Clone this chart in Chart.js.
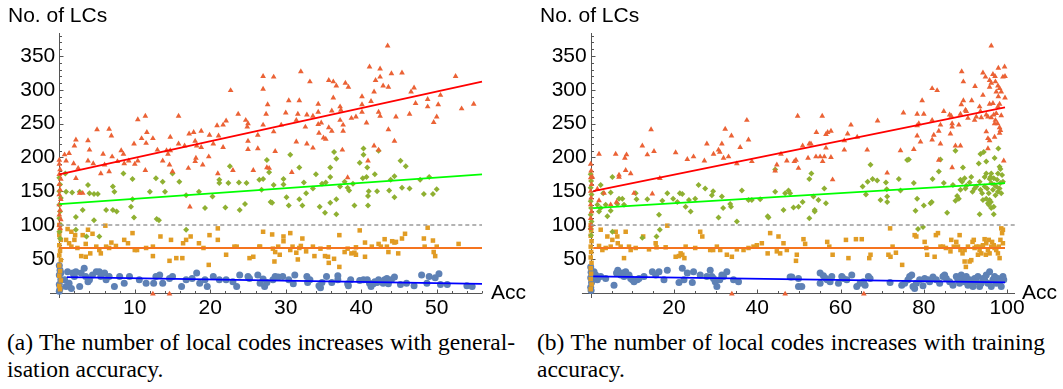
<!DOCTYPE html>
<html>
<head>
<meta charset="utf-8">
<script src="https://cdn.jsdelivr.net/npm/chart.js@4.4.1/dist/chart.umd.min.js"></script>
<style>
  body { margin: 0; background: #fff; }
  #page { position: relative; width: 1063px; height: 389px; overflow: hidden; }
  canvas { position: absolute; top: 0; }
  #genChart { left: 0; }
  #trainChart { left: 530px; }
  .axis-title { position: absolute; font: 21px "Liberation Sans", Arial, sans-serif; line-height: 1; color: #000; white-space: nowrap; }
  .caption { position: absolute; top: 329px; width: 508px; font: 23.5px "Liberation Serif", "Times New Roman", serif; line-height: 27px; color: #000; }
  .caption .first { text-align: justify; text-align-last: justify; white-space: nowrap; }
</style>
</head>
<body>
<div id="page">
  <canvas id="genChart" width="530" height="320"></canvas>
  <canvas id="trainChart" width="533" height="320"></canvas>
  <div class="axis-title" style="left:8px;top:4px">No. of LCs</div>
  <div class="axis-title" style="left:491px;top:281px">Acc</div>
  <div class="axis-title" style="left:540px;top:4px">No. of LCs</div>
  <div class="axis-title" style="left:1022px;top:281px">Acc</div>
  <div class="caption" style="left:7px">
    <div class="first">(a) The number of local codes increases with general-</div>
    <div>isation accuracy.</div>
  </div>
  <div class="caption" style="left:537px">
    <div class="first">(b) The number of local codes increases with training</div>
    <div>accuracy.</div>
  </div>
</div>
<script>
// ---------- tick values ----------
const yTicks = [50, 100, 150, 200, 250, 300, 350];
const genXTicks = [10, 20, 30, 40, 50];
const trainXTicks = [20, 40, 60, 80, 100];

// ---------- (a) generalisation accuracy vs number of LCs ----------
const genRed = [
  [43.5,365],[41.1,334],[42.5,331],[44.0,324],[45.4,325],[52.5,320],[42.5,319],[27.0,320],[28.4,319],[32.0,327],
  [35.7,314],[36.3,312],[33.2,312],[37.9,310],[36.7,306],[38.3,304],[41.9,314],[42.9,306],[43.6,304],[27.0,301],
  [41.7,297],[46.6,297],[47.0,303],[50.5,292],[48.8,286],[40.1,290],[36.3,288],[41.3,283],[30.4,284],[31.8,284],
  [27.6,278],[34.3,279],[47.2,280],[48.8,275],[50.2,278],[53.3,272],[54.9,279],[40.1,278],[37.2,275],[36.1,269],
  [37.3,270],[34.3,267],[30.0,266],[27.4,264],[31.6,264],[40.1,267],[42.3,267],[46.4,264],[32.8,263],[33.6,261],
  [42.5,261],[44.6,260],[39.3,260],[38.7,258],[50.0,260],[31.4,255],[37.2,255],[49.6,252],[34.3,249],[34.7,251],
  [27.0,248],[29.4,248],[37.6,248],[40.7,251],[32.6,245],[35.7,244],[36.1,239],[37.6,239],[28.4,238],[34.4,236],
  [43.6,241],[35.0,229],[35.3,227],[44.4,224],[31.4,223],[32.8,220],[33.6,214],[41.7,217],[37.5,211],[28.6,209],
  [22.7,299],[23.7,264],[24.7,255],[25.0,250],[24.9,245],[20.9,247],[21.7,248],[22.1,254],[15.8,261],[10.4,256],
  [11.4,261],[11.6,237],[6.6,242],[6.9,232],[5.0,241],[3.8,225],[2.2,226],[1.3,206],[0.7,204],[2.0,217],
  [9.9,220],[10.9,228],[11.5,221],[12.4,228],[14.7,230],[14.7,210],[14.2,210],[15.8,220],[16.6,217],[17.2,235],
  [17.8,237],[18.0,224],[18.2,217],[18.8,239],[19.9,233],[21.1,232],[26.3,233],[26.3,213],[25.0,224],[8.5,205],
  [8.2,210],[7.0,201],[5.8,205],[14.4,205],[13.0,211],[18.1,199],[19.8,201],[4.0,211],[18.8,215],[20.4,220],
  [21.7,215],[25.0,212],[0,196],[0.9,195],[1.9,191],[2.5,184],[3.8,195],[4.5,191],[6.0,189],[6.6,179],
  [7.7,194],[8.6,191],[9.2,195],[10.0,190],[10.4,195],[11.4,181],[13.7,195],[14.6,189],[15.0,179],[17.1,184],
  [18.0,194],[19.0,189],[21.0,176],[23.0,181],[25.7,181],[27.8,184],[2.2,169],[5.5,176],[2.7,147],[3.1,147],
  [17.3,127],[12.4,-2],[14.6,-2],[42.3,211],[27.5,185],[30.8,178],[38.2,170],[40.9,195],
  [0,190],[0.1,182],[0,175],[0.2,168],[0,160],[0.1,152],[0,145],[0.2,138],[0,130],[0.1,122],
  [0,115],[0.2,108],[0,100],[0.1,95]
];
const genGreen = [
  [30.6,204],[27.5,196],[27.8,178],[27.0,168],[29.7,168],[29.7,160],[28.4,159],[26.8,152],[28.0,134],[28.2,133],
  [30.1,141],[30.4,129],[31.8,185],[31.8,138],[32.2,129],[32.4,163],[33.6,154],[34.0,175],[34.5,127],[35.2,118],
  [35.9,185],[35.9,171],[35.9,133],[36.7,138],[36.7,116],[37.2,157],[37.8,164],[38.2,155],[38.4,151],[38.9,161],
  [39.1,129],[39.8,192],[40.2,169],[40.7,171],[40.9,129],[40.9,143],[40.3,204],[40.8,185],[41.0,150],[41.8,175],
  [42.1,150],[43.7,151],[43.9,167],[44.4,172],[44.4,141],[45.2,195],[45.4,155],[45.9,187],[46.4,154],[47.8,167],
  [48.3,146],[49.0,171],[49.5,146],[50.0,153],[35.3,163],[34.8,161],[32.7,147],[40.3,213],[42.3,210],[36.4,208],
  [36.7,198],[0.9,149],[1.7,148],[2.7,149],[3.8,159],[4.0,147],[4.6,146],[5.1,146],[7.1,157],[7.3,149],
  [8.5,176],[9.7,168],[9.7,138],[9.9,111],[12.0,149],[12.8,169],[13.7,164],[14.0,149],[15.0,176],[15.9,164],
  [16.8,144],[18.5,149],[20.3,142],[21.2,167],[21.2,162],[22.4,162],[22.6,187],[23.8,163],[24.8,162],[22.0,126],
  [23.9,122],[24.6,131],[26.5,167],[3.1,122],[4.6,107],[6.2,122],[7.1,122],[7.6,120],[9.5,127],[12.9,109],
  [13.2,107],[16.8,93],[2.2,93],[3.6,83],[5.3,83],[2.2,112],[19.3,125],[0.8,176],
  [0,170],[0.1,160],[0,150],[0.2,140],[0,130],[0.1,120],[0,110],[0.2,100],[0,90],[0.1,80]
];
const genOrange = [
  [27.0,90],[28.2,86],[29.7,83],[29.7,76],[30.6,88],[26.6,68],[28.3,65],[28.6,60],[29.0,68],[28.5,46],
  [29.2,56],[30.6,63],[30.9,68],[31.4,59],[31.6,49],[31.8,66],[32.0,69],[32.2,80],[32.7,61],[33.6,68],
  [33.8,54],[34.6,65],[35.2,54],[35.6,53],[35.7,67],[35.7,44],[36.4,50],[37.1,85],[37.1,38],[37.8,60],
  [38.2,65],[38.7,58],[39.1,59],[39.3,56],[39.3,67],[39.8,92],[40.5,74],[40.5,53],[41.4,68],[42.3,72],
  [42.6,68],[43.1,79],[43.4,68],[43.6,60],[44.1,76],[44.4,74],[44.6,75],[44.9,58],[45.4,80],[45.8,87],
  [48.3,80],[48.4,68],[48.8,96],[49.5,77],[49.6,60],[49.8,54],[50.0,68],[52.9,72],
  [1.1,94],[1.6,90],[2.1,85],[3.1,85],[3.8,93],[4.4,87],[0.9,78],[1.3,73],[1.6,68],[2.4,66],
  [2.9,54],[3.5,53],[4.1,58],[3.5,72],[4.9,68],[5.3,63],[5.5,58],[6.1,99],[6.2,68],[6.6,66],
  [6.9,74],[7.5,69],[8.6,78],[9.1,73],[9.7,88],[10.0,63],[10.3,63],[11.5,66],[12.4,68],[12.4,54],
  [13.4,83],[14.6,47],[14.8,78],[15.5,51],[16.3,51],[16.4,73],[16.8,78],[17.4,83],[18.5,73],[19.1,66],
  [19.8,41],[19.9,85],[21.0,95],[21.0,78],[22.1,56],[23.2,68],[23.5,68],[25.2,51],[25.7,53],[26.5,68],
  [2.0,78],[0,100],[0.1,92],[0,85],[0.2,78],[0,70],[0.1,62],[0,55],[0.2,48],[0,40],
  [0.1,32],[0,25],[0.2,18],[0,10],[0.1,5]
];
const genBlue = [
  [27.0,20],[26.6,14],[27.5,15],[28.6,24],[29.0,23],[29.6,24],[28.3,19],[27.2,9],[30.4,19],[31.0,13],
  [31.2,26],[32.8,24],[32.9,15],[33.2,19],[34.4,10],[34.6,7],[34.8,15],[35.4,24],[36.1,15],[36.9,25],
  [36.9,19],[38.2,13],[38.3,10],[38.6,19],[39.8,18],[40.3,19],[40.8,19],[41.1,14],[41.3,9],[41.6,13],
  [41.8,16],[42.1,15],[42.3,19],[42.9,14],[43.1,19],[43.4,21],[43.6,13],[44.0,19],[44.4,23],[45.2,12],
  [46.0,14],[47.0,10],[48.0,26],[48.7,14],[49.0,24],[49.8,22],[50.3,28],[50.5,12],[51.4,12],[54.0,10],
  [54.7,9],[0.2,29],[0.7,19],[1.1,31],[1.3,14],[1.8,29],[2.0,24],[2.2,31],[2.7,9],[2.9,29],
  [3.3,36],[3.5,24],[4.0,19],[4.4,26],[4.9,31],[5.3,31],[5.5,24],[6.0,29],[6.2,19],[6.6,24],
  [7.3,9],[8.0,24],[8.6,14],[9.3,24],[10.6,19],[11.5,14],[12.5,14],[12.8,24],[13.3,26],[13.7,14],
  [14.6,21],[15.0,24],[16.2,9],[16.8,19],[17.6,21],[18.2,29],[18.6,14],[19.3,19],[19.6,9],[20.4,24],
  [21.2,19],[22.1,19],[23.0,16],[23.5,9],[23.9,26],[25.0,24],[25.2,21],[26.3,26],[0.9,9],[1.6,6],
  [3.8,16],[0,40],[0.1,33],[0,26],[0.2,19],[0,12],[0.1,6],[0,2]
];
const genFitRed = [[0,175],[56,312]];
const genFitGreen = [[0,131],[56,175]];
const genFitOrange = [[0,66],[56,66]];
const genFitBlue = [[1,23],[56,13]];
const genRef = [[0,100],[56,100]];

// ---------- (b) training accuracy vs number of LCs ----------
const trainRed = [
  [6.0,205],[8.2,199],[8.6,204],[12.4,217],[13.6,204],[14.5,241],[15.2,209],[20.4,207],[27.9,220],[29.5,205],
  [30.7,211],[31.0,208],[31.5,220],[32.3,242],[33.8,232],[35.9,215],[37.5,255],[37.9,226],[31.9,199],[23.2,197],
  [24.7,201],[45.7,205],[49.7,261],
  [96.2,365],[89.1,327],[94.2,325],[94.8,319],[96.6,323],[97.1,320],[97.9,332],[99.4,334],[99.0,319],[99.5,320],
  [89.5,312],[92.3,305],[95.8,314],[96.2,310],[95.8,304],[97.2,312],[97.8,306],[98.2,302],[97.4,297],[98.6,297],
  [82.0,302],[83.2,299],[94.2,292],[79.6,284],[89.5,284],[91.5,284],[97.9,290],[99.5,288],[96.6,280],[95.8,279],
  [97.8,275],[98.2,279],[89.0,278],[90.0,270],[90.2,268],[93.4,275],[93.6,268],[95.0,263],[92.6,260],[93.8,259],
  [95.4,260],[96.2,259],[96.8,263],[97.4,265],[98.6,262],[75.1,266],[78.4,264],[80.0,264],[84.8,268],[86.2,263],
  [86.6,261],[88.8,264],[90.6,258],[92.2,255],[97.2,255],[97.7,250],[82.0,255],[78.8,250],[78.4,247],[84.0,248],
  [86.8,250],[86.8,245],[88.4,248],[83.6,239],[86.4,235],[95.0,238],[98.2,244],[98.4,240],[98.2,236],[78.4,232],
  [82.4,233],[82.0,226],[79.2,223],[84.0,220],[87.6,217],[88.8,217],[95.4,228],[95.8,225],[95.4,213],[97.0,230],
  [97.0,250],[55.6,261],[62.5,248],[54.2,237],[56.5,234],[56.9,237],[57.7,239],[61.7,235],[64.0,230],[60.9,225],
  [50.9,217],[52.5,220],[52.9,220],[56.5,214],[60.9,211],[66.4,211],[68.9,254],[74.4,210],[77.6,212],[52.2,199],
  [54.1,201],[55.1,201],[56.1,201],[57.7,200],
  [2.0,205],[8.4,181],[6.8,174],[9.6,176],[27.3,195],[33.1,201],[35.1,191],[38.7,194],[44.3,180],[44.7,189],
  [47.1,195],[49.9,184],[1.6,153],[2.0,136],[0.4,171],[3.2,147],[4.8,130],[6.2,134],[6.8,171],[10.4,147],
  [14.8,146],[16.6,169],[33.9,-2],[46.7,-2],
  [48.9,194],[49.3,196],[55.7,194],[58.1,167],[71.2,177],[83.6,196],[86.8,185],[99.2,195],[65.6,-2],
  [0,190],[0.1,180],[0,170],[0.2,160],[0,150],[0.1,140],[0,130],[0.2,120],[0,110],[0.1,100],[0,95]
];
const trainGreen = [
  [2.4,159],[3.0,147],[5.2,171],[4.8,148],[6.8,139],[1.6,130],[2.4,125],[2.0,120],[3.6,130],[4.0,113],
  [4.8,121],[5.2,90],[6.4,131],[7.6,139],[8.0,130],[10.8,147],[11.0,138],[12.4,81],[13.6,138],[15.8,83],
  [16.6,93],[16.4,115],[17.2,136],[18.4,147],[19.8,139],[20.8,134],[21.4,147],[22.0,146],[22.8,127],[23.6,137],
  [24.0,120],[25.1,139],[25.9,159],[27.5,154],[29.4,150],[29.1,144],[30.7,111],[31.5,142],[31.8,125],[33.5,131],
  [33.7,127],[35.1,105],[36.3,151],[37.9,137],[38.7,137],[40.7,138],[42.5,113],[42.7,111],[44.3,182],[44.3,149],
  [46.3,122],[46.7,147],[47.5,151],[48.7,126],[49.9,127],
  [87.6,210],[93.6,205],[94.4,208],[97.9,213],[97.0,199],[76.4,197],[84.0,197],
  [47.9,147],[50.9,134],[52.5,168],[53.0,176],[52.5,110],[53.5,142],[53.8,122],[53.8,120],[54.7,137],[56.1,154],
  [56.5,132],[65.3,157],[66.1,145],[66.5,164],[67.7,168],[68.8,166],[67.2,189],[69.6,137],[70.9,163],[71.2,142],
  [71.2,134],[71.1,153],[74.0,168],[74.4,151],[76.0,196],[77.6,162],[78.0,121],[78.4,139],[80.0,129],[81.6,132],
  [82.1,168],[81.9,134],[83.6,179],[84.8,162],[85.6,118],[87.0,159],[87.6,136],[88.0,143],[88.4,139],[88.8,167],
  [88.8,152],[89.2,164],[89.4,185],[89.8,169],[90.0,154],[90.2,158],[91.0,163],[91.4,171],[91.7,149],[92.2,154],
  [92.6,157],[93.2,191],[93.4,164],[93.6,152],[94.0,147],[94.6,171],[94.6,157],[95.0,194],[95.0,176],[95.2,154],
  [95.6,147],[95.8,168],[95.8,137],[96.0,171],[96.2,176],[96.2,162],[96.6,152],[96.8,169],[97.0,159],[97.2,144],
  [97.4,157],[97.6,167],[97.8,176],[97.8,149],[98.2,186],[98.2,154],[98.4,162],[98.6,147],[98.8,174],[99.0,164],
  [98.4,183],[93.4,116],[95.4,132],[96.8,116],[94.2,137],[95.6,130],[96.1,134],[96.8,127],[96.2,125],[95.0,139],
  [78.6,94],[79.8,97],
  [0,175],[0.1,165],[0,155],[0.2,145],[0,135],[0.1,125],[0,115],[0.2,105],[0,95],[0.1,85]
];
const trainOrange = [
  [2.4,93],[4.0,83],[2.0,69],[2.8,63],[3.6,66],[4.8,68],[5.2,78],[6.0,90],[6.4,83],[6.5,73],
  [7.2,68],[8.0,51],[8.4,90],[9.2,68],[9.6,63],[10.8,66],[12.6,83],[14.0,64],[15.6,73],[15.8,67],
  [18.0,67],[18.4,99],[20.4,53],[21.2,54],[21.6,58],[22.0,56],[22.5,51],[22.8,68],[25.1,66],[26.3,90],
  [26.8,83],[28.7,63],[29.4,63],[30.3,68],[31.1,63],[32.7,56],[33.9,53],[35.1,64],[36.7,63],[37.9,66],
  [39.1,68],[39.9,70],[41.1,73],[42.5,58],[43.1,88],[44.7,61],[45.1,83],[45.5,58],[46.3,73],[47.1,63],
  [49.5,56],
  [51.1,79],[51.5,72],[49.3,47],[56.8,75],[57.3,68],[58.1,56],[61.3,78],[61.9,51],[63.7,79],[65.1,79],
  [66.9,51],[67.2,56],[71.5,56],[72.0,53],[72.5,68],[73.3,59],[74.8,41],[71.9,95],[77.8,85],[78.2,83],
  [80.2,75],[80.6,66],[80.8,56],[82.6,53],[82.9,85],[83.4,88],[84.0,68],[84.6,68],[85.3,66],[86.4,61],
  [86.6,78],[87.2,68],[87.8,75],[88.2,68],[88.6,85],[88.8,63],[89.3,58],[89.8,63],[90.1,38],[90.6,68],
  [91.0,46],[91.4,48],[91.7,75],[92.0,78],[92.2,66],[92.6,68],[93.0,56],[93.2,68],[93.4,63],[93.8,58],
  [94.2,70],[94.6,79],[94.9,56],[95.0,73],[95.4,63],[95.6,78],[95.8,58],[96.2,68],[96.4,75],[96.8,70],
  [97.0,66],[97.4,63],[97.8,58],[98.0,68],[98.2,51],[98.4,78],[98.6,95],[98.8,88],[99.0,93],[99.0,73],
  [89.8,46],
  [0,100],[0.1,92],[0,84],[0.2,76],[0,68],[0.1,60],[0,52],[0.2,44],[0,36],[0.1,28],[0,20],[0.2,12],[0,5]
];
const trainBlue = [
  [0.8,31],[1.2,26],[1.6,19],[2.4,24],[3.6,21],[5.6,11],[6.2,29],[6.5,33],[7.2,26],[7.6,29],
  [8.0,24],[8.4,31],[8.8,26],[9.2,26],[9.6,21],[10.0,19],[10.4,16],[11.2,19],[11.6,21],[12.8,24],
  [14.8,31],[15.6,26],[16.4,31],[17.6,19],[18.4,33],[22.0,36],[21.2,15],[22.4,19],[23.2,29],[24.4,15],
  [24.7,31],[26.3,26],[27.9,24],[28.7,33],[29.1,24],[29.5,21],[29.9,16],[30.3,9],[31.0,19],[31.5,26],
  [31.9,24],[32.7,31],[34.3,19],[35.5,16],[48.3,23],[49.9,9],
  [47.9,23],[49.9,21],[50.7,9],[55.1,29],[55.1,14],[55.9,25],[56.5,21],[56.8,19],[57.5,16],[57.9,24],
  [59.5,14],[60.3,24],[60.7,21],[61.5,19],[62.7,26],[63.9,9],[64.7,14],[65.5,16],[65.9,11],[66.7,24],
  [67.1,21],[71.9,15],[74.7,11],[75.4,14],[76.2,19],[76.6,24],[77.1,26],[77.4,9],[77.8,6],[78.2,14],
  [79.0,19],[79.8,10],[80.2,21],[81.0,19],[81.4,16],[82.2,23],[83.0,19],[83.8,14],[84.6,24],[85.0,26],
  [85.4,21],[86.2,16],[87.0,11],[87.8,24],[88.2,19],[88.6,14],[89.0,26],[89.4,21],[89.8,16],[90.2,24],
  [90.6,11],[91.0,19],[91.4,14],[91.8,9],[92.2,21],[92.6,16],[93.0,24],[93.4,9],[93.8,14],[94.2,21],
  [94.6,19],[95.0,26],[95.4,14],[95.8,31],[96.2,9],[96.6,19],[97.0,24],[97.4,14],[97.8,21],[98.2,16],
  [98.6,9],[99.0,24],[99.2,19],
  [0,38],[0.1,30],[0,22],[0.2,15],[0,8],[0.1,3]
];
const trainFitRed = [[0.6,150],[99.5,274]];
const trainFitGreen = [[0.6,125],[99.5,162]];
const trainFitOrange = [[0.6,66],[99.5,66]];
const trainFitBlue = [[0.6,24],[99.5,15]];
const trainRef = [[0,100],[101.9,100]];

// ---------- styling ----------
const AXIS_COLOR = "#555555";
const tickFont = { family: "'Liberation Sans', Arial, sans-serif", size: 21 };
const colors = { blue: "#5E81B5", orange: "#E19C24", green: "#8FB032", red: "#EB6235" };

const toPoints = pairs => pairs.map(([x, y]) => ({ x, y }));

function markers(pairs, color, style, radius) {
  return {
    data: toPoints(pairs),
    pointStyle: style,
    pointRadius: radius,
    pointBackgroundColor: color,
    pointBorderWidth: 0,
    showLine: false,
    clip: false
  };
}

function line(pairs, color, width, dash) {
  return {
    data: toPoints(pairs),
    showLine: true,
    borderColor: color,
    borderWidth: width,
    borderDash: dash || [],
    pointRadius: 0,
    fill: false,
    clip: false
  };
}

// Axis lines through the origin plus inward major/minor tick marks
const axisFrame = {
  id: "axisFrame",
  beforeDatasetsDraw(chart, args, opts) {
    const { ctx, scales: { x, y } } = chart;
    const ox = Math.round(x.getPixelForValue(0)) + 0.5;
    const oy = Math.round(y.getPixelForValue(0)) + 0.5;
    ctx.save();
    ctx.strokeStyle = AXIS_COLOR;
    ctx.lineWidth = 1;
    ctx.beginPath();
    ctx.moveTo(x.getPixelForValue(opts.xLow), oy);
    ctx.lineTo(x.right, oy);
    ctx.moveTo(ox, y.getPixelForValue(opts.yLow));
    ctx.lineTo(ox, y.top);
    for (let i = 1; i * opts.xStep <= x.max; i++) {
      const px = Math.round(x.getPixelForValue(i * opts.xStep)) + 0.5;
      const len = i % opts.xEvery === 0 ? 4 : 2.5;
      ctx.moveTo(px, oy);
      ctx.lineTo(px, oy - len);
    }
    for (let i = 1; i * opts.yStep <= y.max; i++) {
      const py = Math.round(y.getPixelForValue(i * opts.yStep)) + 0.5;
      const len = i % opts.yEvery === 0 ? 4 : 2.5;
      ctx.moveTo(ox, py);
      ctx.lineTo(ox + len, py);
    }
    ctx.stroke();
    ctx.restore();
  }
};

function renderPanel(canvasId, datasets, xTicks, xMax, frame, yAxisWidth) {
  new Chart(document.getElementById(canvasId), {
    type: "scatter",
    data: { datasets },
    options: {
      responsive: false,
      animation: false,
      devicePixelRatio: 1,
      events: [],
      layout: { padding: { left: 0, top: 33, right: 48, bottom: 0 } },
      plugins: {
        legend: { display: false },
        tooltip: { enabled: false },
        axisFrame: frame
      },
      scales: {
        x: {
          type: "linear",
          position: "bottom",
          min: 0,
          max: xMax,
          afterBuildTicks: s => { s.ticks = xTicks.map(v => ({ value: v })); },
          afterFit: s => { s.height = 27.4; },
          grid: { display: false, drawTicks: false },
          border: { display: false },
          ticks: { color: "#000", font: tickFont, padding: 3, maxRotation: 0, autoSkip: false, callback: v => String(v) }
        },
        y: {
          type: "linear",
          position: "left",
          min: 0,
          max: 384,
          afterBuildTicks: s => { s.ticks = yTicks.map(v => ({ value: v })); },
          afterFit: s => { s.width = yAxisWidth; },
          grid: { display: false, drawTicks: false },
          border: { display: false },
          ticks: { color: "#000", font: tickFont, padding: 4, autoSkip: false, callback: v => String(v) }
        }
      }
    },
    plugins: [axisFrame]
  });
}

// first dataset is drawn on top
renderPanel("genChart", [
  line(genFitRed, "#FF0000", 1.8),
  line(genFitGreen, "#00FF00", 1.8),
  line(genFitOrange, "#F5741F", 1.8),
  line(genFitBlue, "#0000FF", 1.8),
  line(genRef, "#9A9A9A", 1.3, [4, 3]),
  markers(genRed, colors.red, "triangle", 3.3),
  markers(genGreen, colors.green, "rectRot", 3),
  markers(genOrange, colors.orange, "rect", 3.2),
  markers(genBlue, colors.blue, "circle", 3.5)
], genXTicks, 56, { xLow: -1.23, yLow: -8, xStep: 2, xEvery: 5, yStep: 10, yEvery: 5 }, 59.3);

renderPanel("trainChart", [
  line(trainFitRed, "#FF0000", 1.8),
  line(trainFitGreen, "#00FF00", 1.8),
  line(trainFitOrange, "#F5741F", 1.8),
  line(trainFitBlue, "#0000FF", 1.8),
  line(trainRef, "#9A9A9A", 1.3, [4, 3]),
  markers(trainRed, colors.red, "triangle", 3.3),
  markers(trainGreen, colors.green, "rectRot", 3),
  markers(trainOrange, colors.orange, "rect", 3.2),
  markers(trainBlue, colors.blue, "circle", 3.5)
], trainXTicks, 101.9, { xLow: -2.1, yLow: -8, xStep: 5, xEvery: 4, yStep: 10, yEvery: 5 }, 60.7);
</script>
</body>
</html>
